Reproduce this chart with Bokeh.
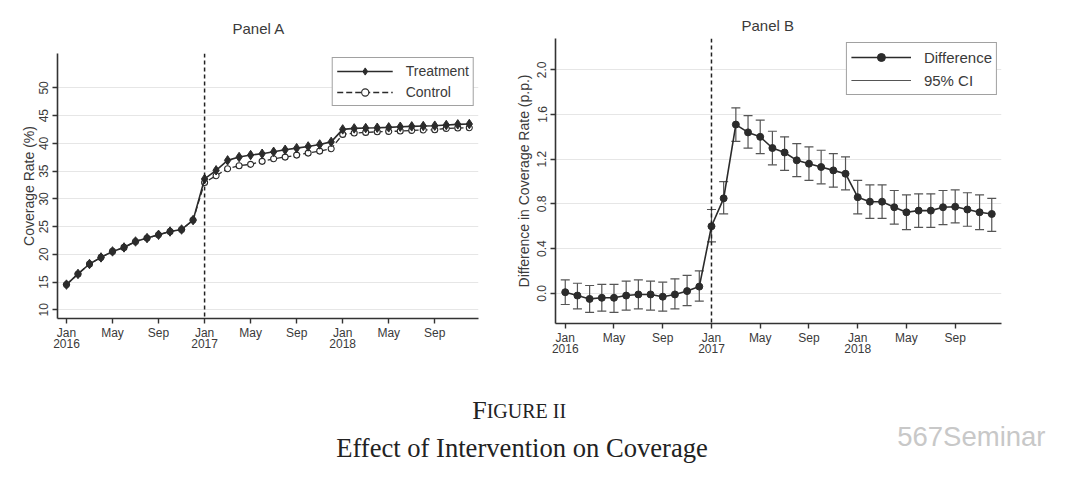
from bokeh.plotting import figure
from bokeh.models import (ColumnDataSource, Span, Legend, LegendItem, FixedTicker,
                          Label, PrintfTickFormatter, Range1d)
from bokeh.layouts import column, row
from bokeh.embed import file_html
from bokeh.resources import INLINE

# ---------------- data ----------------
months = list(range(36))  # Jan 2016 .. Dec 2018
tick_months = [0, 4, 8, 12, 16, 20, 24, 28, 32]
tick_labels = ["Jan\n2016", "May", "Sep", "Jan\n2017", "May", "Sep", "Jan\n2018", "May", "Sep"]
intervention_month = 12

treatment = [14.55, 16.47, 18.26, 19.45, 20.53, 21.25, 22.32, 22.93, 23.53, 24.12, 24.48, 26.17,
             33.59, 35.15, 36.94, 37.54, 37.90, 38.13, 38.48, 38.84, 39.14, 39.45, 39.81, 40.27,
             42.52, 42.70, 42.76, 42.82, 42.89, 43.00, 43.07, 43.13, 43.19, 43.31, 43.43, 43.49]
control = [14.55, 16.47, 18.26, 19.45, 20.53, 21.25, 22.32, 22.93, 23.53, 24.12, 24.48, 26.17,
           32.95, 34.18, 35.44, 35.98, 36.22, 36.76, 37.23, 37.53, 37.89, 38.25, 38.61, 39.02,
           41.62, 41.86, 41.98, 42.09, 42.16, 42.22, 42.34, 42.40, 42.46, 42.70, 42.76, 42.82]

difference = [0.01, -0.02, -0.05, -0.04, -0.04, -0.02, -0.01, -0.01, -0.03, -0.01, 0.02, 0.06,
              0.60, 0.85, 1.51, 1.44, 1.40, 1.30, 1.26, 1.19, 1.16, 1.13, 1.10, 1.07,
              0.86, 0.82, 0.82, 0.77, 0.725, 0.74, 0.74, 0.77, 0.775, 0.75, 0.725, 0.71]
ci_high = [0.12, 0.09, 0.07, 0.08, 0.08, 0.11, 0.12, 0.11, 0.10, 0.13, 0.16, 0.20,
           0.75, 1.00, 1.66, 1.59, 1.55, 1.45, 1.40, 1.34, 1.31, 1.28, 1.25, 1.22,
           1.01, 0.97, 0.97, 0.92, 0.88, 0.89, 0.89, 0.92, 0.925, 0.90, 0.88, 0.85]
ci_low = [-0.10, -0.14, -0.17, -0.16, -0.17, -0.15, -0.14, -0.15, -0.16, -0.14, -0.11, -0.07,
          0.46, 0.71, 1.36, 1.30, 1.25, 1.15, 1.10, 1.045, 1.01, 0.98, 0.95, 0.925,
          0.71, 0.67, 0.67, 0.62, 0.57, 0.59, 0.59, 0.615, 0.63, 0.60, 0.57, 0.555]

coverage_ticks = [10, 15, 20, 25, 30, 35, 40, 45, 50]
diff_ticks = [0.0, 0.4, 0.8, 1.2, 1.6, 2.0]

# ---------------- style ----------------
FONT = "Liberation Sans"
TXT = "#3a3a3a"
INK = "#2b2b2b"
GRID = "#e6e6e6"


def style(p, yticks):
    p.outline_line_color = None
    p.background_fill_color = "white"
    p.border_fill_color = "white"
    p.xgrid.grid_line_color = None
    p.ygrid.grid_line_color = GRID
    p.ygrid.grid_line_width = 1
    p.ygrid.ticker = FixedTicker(ticks=yticks)
    p.xaxis.ticker = FixedTicker(ticks=tick_months)
    p.xaxis.major_label_overrides = {m: l for m, l in zip(tick_months, tick_labels)}
    p.yaxis.ticker = FixedTicker(ticks=yticks)
    p.yaxis.major_label_orientation = "vertical"
    for ax in (p.xaxis[0], p.yaxis[0]):
        ax.axis_line_color = "#333333"
        ax.axis_line_width = 1.6
        ax.major_tick_line_color = "#333333"
        ax.major_tick_line_width = 1.4
        ax.major_tick_in = 0
        ax.major_tick_out = 5
        ax.minor_tick_line_color = None
        ax.major_label_text_font = FONT
        ax.major_label_text_font_size = "12px"
        ax.major_label_text_color = TXT
        ax.major_label_text_line_height = 0.85
        ax.major_label_standoff = 2
        ax.axis_label_text_font = FONT
        ax.axis_label_text_font_size = "14px"
        ax.axis_label_text_font_style = "normal"
        ax.axis_label_text_color = TXT
    p.yaxis.major_label_standoff = 4
    p.title.align = "left"
    p.title.text_font = FONT
    p.title.text_font_size = "15px"
    p.title.text_font_style = "normal"
    p.title.text_color = TXT


def style_legend(lg, glyph_w, row_h, font_px):
    lg.location = "top_right"
    lg.border_line_color = "#444444"
    lg.border_line_width = 1
    lg.background_fill_alpha = 1
    lg.margin = 4
    lg.padding = 4
    lg.spacing = 3
    lg.glyph_width = glyph_w
    lg.glyph_height = row_h
    lg.label_height = row_h
    lg.label_standoff = 13
    lg.label_text_font = FONT
    lg.label_text_font_size = font_px
    lg.label_text_color = TXT


# ---------------- Panel A ----------------
pa = figure(width=512, height=362, title="Panel A",
            x_range=Range1d(-0.78, 35.8), y_range=Range1d(8.44, 56.2),
            min_border_left=57, min_border_right=34, min_border_top=52, min_border_bottom=44,
            output_backend="svg", toolbar_location=None)
style(pa, coverage_ticks)
pa.title.standoff = 34
pa.title.offset = 175
pa.yaxis.axis_label = "Coverage Rate (%)"
pa.yaxis.axis_label_standoff = 0

src_a = ColumnDataSource(dict(m=months, t=treatment, c=control))
pa.add_layout(Span(location=intervention_month, dimension="height", line_color="#222222",
                   line_dash="4 3", line_width=1.5))
c_line = pa.line("m", "c", source=src_a, line_color=INK, line_width=1.3, line_dash="6 3")
c_pts = pa.scatter("m", "c", source=src_a, marker="circle", size=6, fill_color="white",
                   line_color=INK, line_width=1.1)
t_line = pa.line("m", "t", source=src_a, line_color=INK, line_width=1.6)
t_pts = pa.scatter("m", "t", source=src_a, marker="diamond", size=9.5, fill_color=INK,
                   line_color=INK)
leg_a = Legend(items=[LegendItem(label="Treatment", renderers=[t_line, t_pts]),
                      LegendItem(label="Control", renderers=[c_line, c_pts])])
style_legend(leg_a, 56, 18, "14px")
pa.add_layout(leg_a)

# ---------------- Panel B ----------------
pb = figure(width=568, height=362, title="Panel B",
            x_range=Range1d(-0.8, 35.8), y_range=Range1d(-0.27, 2.28),
            min_border_left=42, min_border_right=79, min_border_top=38, min_border_bottom=39,
            output_backend="svg", toolbar_location=None)
style(pb, diff_ticks)
pb.title.standoff = 10
pb.title.offset = 186
pb.yaxis.axis_label = "Difference in Coverage Rate (p.p.)"
pb.yaxis.axis_label_standoff = 3
pb.yaxis.formatter = PrintfTickFormatter(format="%.1f")

src_b = ColumnDataSource(dict(m=months, d=difference, lo=ci_low, hi=ci_high))
pb.add_layout(Span(location=intervention_month, dimension="height", line_color="#222222",
                   line_dash="4 3", line_width=1.5))
ci_seg = pb.segment(x0="m", y0="lo", x1="m", y1="hi", source=src_b, line_color="#555555",
                    line_width=1.2)
pb.scatter("m", "lo", source=src_b, marker="dash", size=9, line_color="#555555", line_width=1.2)
pb.scatter("m", "hi", source=src_b, marker="dash", size=9, line_color="#555555", line_width=1.2)
d_line = pb.line("m", "d", source=src_b, line_color=INK, line_width=1.6)
d_pts = pb.scatter("m", "d", source=src_b, marker="circle", size=7, fill_color=INK,
                   line_color=INK)
leg_b = Legend(items=[LegendItem(label="Difference", renderers=[d_line, d_pts]),
                      LegendItem(label="95% CI", renderers=[ci_seg])])
style_legend(leg_b, 60, 20, "15px")
pb.add_layout(leg_b)

# ---------------- caption ----------------
CAP_H = 119
pc = figure(width=1080, height=CAP_H, x_range=Range1d(0, 1080), y_range=Range1d(0, CAP_H),
            min_border=0, output_backend="svg", toolbar_location=None)
pc.xaxis.visible = False
pc.yaxis.visible = False
pc.grid.visible = False
pc.outline_line_color = None
SERIF = "Liberation Serif"
pc.add_layout(Label(x=486.2, y=70.7, text="F", text_align="right", text_baseline="alphabetic",
                    text_font=SERIF, text_font_size="26px", text_color="#222222"))
pc.add_layout(Label(x=486.2, y=70.7, text="IGURE II", text_align="left", text_baseline="alphabetic",
                    text_font=SERIF, text_font_size="20px", text_color="#222222"))
pc.add_layout(Label(x=521.5, y=33.5, text="Effect of Intervention on Coverage", text_align="center",
                    text_baseline="alphabetic", text_font=SERIF, text_font_size="26.6px",
                    text_color="#222222"))
pc.add_layout(Label(x=896.7, y=44.7, text="567Seminar", text_align="left", text_baseline="alphabetic",
                    text_font=FONT, text_font_size="27.5px", text_color="#c8c8c8"))

layout = column(row(column(pa), column(pb)), pc)
open("out.html", "w").write(file_html(layout, INLINE))
